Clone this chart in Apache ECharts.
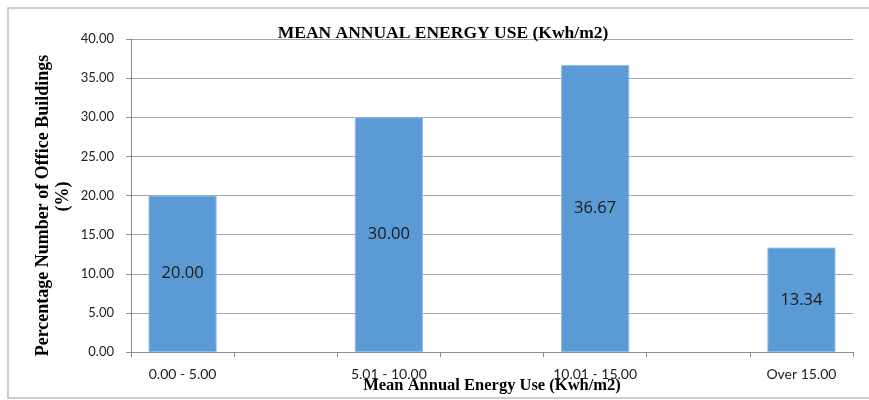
<!DOCTYPE html>
<html>
<head>
<meta charset="utf-8">
<script src="https://cdn.jsdelivr.net/npm/echarts@6/dist/echarts.min.js"></script>
<style>
  html, body { margin: 0; padding: 0; background: #fff; }
  #chart { width: 869px; height: 400px; }
</style>
</head>
<body>
<div id="chart"></div>
<script>
// Energy-use bands; blank slots keep the gaps between the bars
const categories = ['0.00 - 5.00', '', '5.01 - 10.00', '', '10.01 - 15.00', '', 'Over 15.00'];
const percentages = [20.00, '-', 30.00, '-', 36.67, '-', 13.34];
const yTicks = { min: 0, max: 40, step: 5 };

const chart = echarts.init(document.getElementById('chart'), null, { renderer: 'canvas' });

const serifBold = {
  fontFamily: '"Liberation Serif", "Times New Roman", serif',
  fontWeight: 'bold',
  color: '#000'
};

const option = {
  animation: false,
  backgroundColor: '#ffffff',
  title: {
    text: 'MEAN ANNUAL ENERGY USE (Kwh/m2)',
    left: 438,
    top: 19,
    textAlign: 'center',
    textStyle: Object.assign({ fontSize: 17.5 }, serifBold)
  },
  grid: {
    left: 131, right: 16, top: 39, bottom: 48,
    containLabel: false,
    outerBoundsMode: 'none'
  },
  xAxis: {
    type: 'category',
    data: categories,
    name: 'Mean Annual Energy Use (Kwh/m2)',
    nameLocation: 'middle',
    nameGap: 25,
    nameMoveOverlap: false,
    nameTextStyle: Object.assign({ fontSize: 16.5 }, serifBold),
    axisLine: { show: true, lineStyle: { color: '#8c8c8c', width: 1 } },
    axisTick: { show: true, interval: 0, length: 5, lineStyle: { color: '#8c8c8c' } },
    axisLabel: {
      interval: 0,
      margin: 15,
      fontFamily: 'Lato, "Open Sans", sans-serif',
      fontSize: 14,
      color: '#222'
    },
    splitLine: { show: false }
  },
  yAxis: {
    type: 'value',
    min: yTicks.min,
    max: yTicks.max,
    interval: yTicks.step,
    name: 'Percentage Number of Office Buildings\n    (%)',
    nameLocation: 'middle',
    nameRotate: 90,
    nameGap: 58,
    nameMoveOverlap: false,
    nameTextStyle: Object.assign({ fontSize: 18, lineHeight: 20, padding: [0, 20, 0, 0] }, serifBold),
    axisLine: { show: true, lineStyle: { color: '#8c8c8c', width: 1 } },
    axisTick: { show: true, length: 5, lineStyle: { color: '#8c8c8c' } },
    axisLabel: {
      margin: 17,
      formatter: v => v.toFixed(2),
      fontFamily: 'Lato, "Open Sans", sans-serif',
      fontSize: 13,
      color: '#222'
    },
    splitLine: { show: true, lineStyle: { color: '#a6a6a6', width: 1 } }
  },
  series: [{
    type: 'bar',
    data: percentages,
    barCategoryGap: '34%',
    itemStyle: { color: '#5b9bd5', borderColor: '#8dbbe6', borderWidth: 1 },
    label: {
      show: true,
      position: 'inside',
      formatter: p => Number(p.value).toFixed(2),
      fontFamily: '"Open Sans", sans-serif',
      fontSize: 16.5,
      color: '#1a1a1a'
    }
  }],
  graphic: [{
    type: 'rect',
    shape: { x: 8, y: 8, width: 880, height: 390 },
    style: { fill: 'none', stroke: '#bdbdbd', lineWidth: 1.5 },
    silent: true,
    z: 100
  }]
};

chart.setOption(option);
</script>
</body>
</html>
